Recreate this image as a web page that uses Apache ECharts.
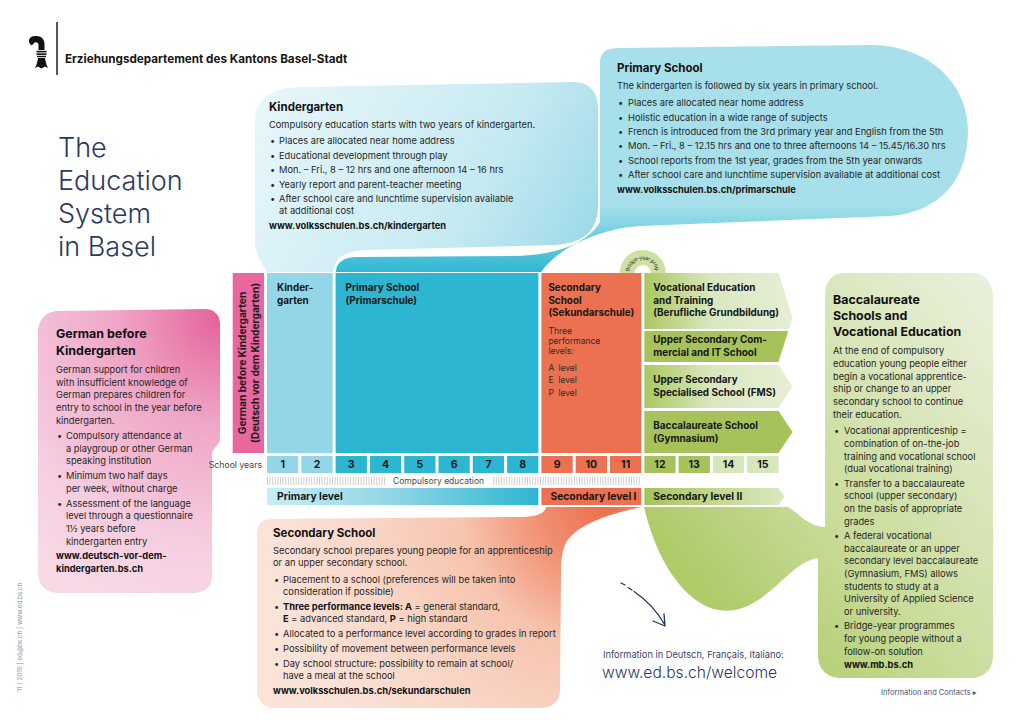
<!DOCTYPE html>
<html><head><meta charset="utf-8">
<script src="https://cdn.jsdelivr.net/npm/echarts@6/dist/echarts.min.js"></script>
<style>html,body{margin:0;padding:0;background:#fff}#c{width:1020px;height:721px}</style>
</head><body><div id="c"></div>
<script>
// ================= DATA =================
const schoolYears = ['1','2','3','4','5','6','7','8','9','10','11','12','13','14','15'];
const yearStage = ['kg','kg','ps','ps','ps','ps','ps','ps','sek','sek','sek','up','up','upx','upx'];
const stageNames = ['German before Kindergarten','Kindergarten','Primary School','Secondary School'];
const stageLabels = [['German before Kindergarten','(Deutsch vor dem Kindergarten)'],['Kinder-','garten'],['Primary School','(Primarschule)'],['Secondary','School','(Sekundarschule)']];
const stageStart = [-1, 0, 2, 8];
const stageEnd = [0, 2, 8, 11];
const performanceIntro = ['Three','performance','levels:'];
const performanceLevels = ['A','E','P'];
const upperLabels = [['Vocational Education','and Training','(Berufliche Grundbildung)'],['Upper Secondary Com-','mercial and IT School'],['Upper Secondary','Specialised School (FMS)'],['Baccalaureate School','(Gymnasium)']];
const upperStart = [11, 11, 11, 11];
const upperEnd = [15, 15, 15, 15];
const levelNames = ['Primary level','Secondary level I','Secondary level II'];
const levelStart = [0, 8, 11];
const levelEnd = [8, 11, 15];
const compulsorySpan = [0, 11];
const compulsoryLabel = 'Compulsory education';
const bridgeYear = 11;
const bridgeLabel = 'Bridge-year prog.';

const headerText = 'Erziehungsdepartement des Kantons Basel-Stadt';
const titleLines = ['The','Education','System','in Basel'];

const kgTitle = ['Kindergarten'];
const kgIntro = ['Compulsory education starts with two years of kindergarten.'];
const kgBullets = [['Places are allocated near home address'],['Educational development through play'],['Mon. – Fri., 8 – 12 hrs and one afternoon 14 – 16 hrs'],['Yearly report and parent-teacher meeting'],['After school care and lunchtime supervision available','at additional cost']];
const kgUrl = ['www.volksschulen.bs.ch/kindergarten'];

const psTitle = ['Primary School'];
const psIntro = ['The kindergarten is followed by six years in primary school.'];
const psBullets = [['Places are allocated near home address'],['Holistic education in a wide range of subjects'],['French is introduced from the 3rd primary year and English from the 5th'],['Mon. – Fri., 8 – 12.15 hrs and one to three afternoons 14 – 15.45/16.30 hrs'],['School reports from the 1st year, grades from the 5th year onwards'],['After school care and lunchtime supervision available at additional cost']];
const psUrl = ['www.volksschulen.bs.ch/primarschule'];

const dkTitle = ['German before','Kindergarten'];
const dkIntro = ['German support for children','with insufficient knowledge of','German prepares children for','entry to school in the year before','kindergarten.'];
const dkBullets = [['Compulsory attendance at','a playgroup or other German','speaking institution'],['Minimum two half days','per week, without charge'],['Assessment of the language','level through a questionnaire','1½ years before','kindergarten entry']];
const dkUrl = ['www.deutsch-vor-dem-','kindergarten.bs.ch'];

const skTitle = ['Secondary School'];
const skIntro = ['Secondary school prepares young people for an apprenticeship','or an upper secondary school.'];
const skBullets = [
  ['Placement to a school (preferences will be taken into','consideration if possible)'],
  [[['Three performance levels: A',1],[' = general standard,',0]],[['E',1],[' = advanced standard, ',0],['P',1],[' = high standard',0]]],
  ['Allocated to a performance level according to grades in report'],
  ['Possibility of movement between performance levels'],
  ['Day school structure: possibility to remain at school/','have a meal at the school']];
const skUrl = ['www.volksschulen.bs.ch/sekundarschulen'];

const bvTitle = ['Baccalaureate','Schools and','Vocational Education'];
const bvIntro = ['At the end of compulsory','education young people either','begin a vocational apprentice-','ship or change to an upper','secondary school to continue','their education.'];
const bvBullets = [['Vocational apprenticeship =','combination of on-the-job','training and vocational school','(dual vocational training)'],['Transfer to a baccalaureate','school (upper secondary)','on the basis of appropriate','grades'],['A federal vocational','baccalaureate or an upper','secondary level baccalaureate','(Gymnasium, FMS) allows','students to study at a','University of Applied Science','or university.'],['Bridge-year programmes','for young people without a','follow-on solution']];
const bvUrl = ['www.mb.bs.ch'];

const infoText = 'Information in Deutsch, Français, Italiano:';
const infoUrl = 'www.ed.bs.ch/welcome';
const contactsText = 'Information and Contacts ▸';
const footerText = '11 / 2019 | ed@bs.ch | www.ed.bs.ch';

// ================= STYLE / LAYOUT =================
const FAM = 'Inter, "Noto Sans", "DejaVu Sans", sans-serif';
const TXT = '#262626', HEAD = '#111111', NAVY = '#2b3961';
const BODY = 9.3;
const LABEL = 9.9;
const GAP = 3;
const LY = {blockTop:273, blockBottom:453, yearTop:456, yearBottom:473, hatchTop:477, hatchBottom:485,
  levelTop:488, levelBottom:505};
const upperRows = [[273,329],[331,362],[365,408],[411,453]];
const upperGroups = [[273,362],[273,362],[365,408],[411,453]];
const upperLabelOffset = [18, 12, 18, 18];
const stageLabelOffset = [0, 10, 10, 7];
const stageFill = ['#e8679e','#93d6e7','#2cb6d1','#ec7151'];
const yearFill = {kg:'#93d6e7', ps:'#2cb6d1', sek:'#ec7151', up:'#a5c35a', upx:'#d8e7bb'};

function lin(x, y, x2, y2, stops, global){
  return {type:'linear', x:x, y:y, x2:x2, y2:y2, global:!!global,
    colorStops: stops.map(s => ({offset:s[0], color:s[1]}))};
}
function rad(x, y, r, stops, global){
  return {type:'radial', x:x, y:y, r:r, global:!!global,
    colorStops: stops.map(s => ({offset:s[0], color:s[1]}))};
}
const lightGreen = () => lin(0,0,1,0,[[0,'#aac860'],[0.45,'#d9e7bf'],[1,'#e6efd6']]);
const upperFill = [lightGreen, () => '#a5c35a', lightGreen, () => '#a5c35a'];

const mctx = document.createElement('canvas').getContext('2d');
function F(size, weight){ return (weight||400) + ' ' + size + 'px ' + FAM; }
function measure(t, font){ mctx.font = font; return mctx.measureText(t).width; }
function txt(x, base, text, size, weight, fill, align){
  return {type:'text', x:x, y: base - size*0.36, silent:true,
    style:{text:text, x:0, y:0, font:F(size,weight), fill:fill||TXT,
      align:align||'left', textAlign:align||'left', verticalAlign:'middle', textVerticalAlign:'middle'}};
}
function lineEls(x, base, line, size){
  if (typeof line === 'string') return [txt(x, base, line, size, 400, TXT)];
  const out = []; let cx = x;
  line.forEach(([t,b]) => { out.push(txt(cx, base, t, size, b?700:400, b?HEAD:TXT)); cx += measure(t, F(size, b?700:400)); });
  return out;
}
function bubbleText(c){
  const els = [];
  c.title.forEach((t,i) => els.push(txt(c.x, c.titleBase + i*c.titleStep, t, c.titleSize, 700, HEAD)));
  let y = c.bodyBase;
  c.intro.forEach((t,i) => { if (i>0) y += c.s; els.push(...lineEls(c.x, y, t, BODY)); });
  c.bullets.forEach((b,bi) => {
    y += c.s + (bi===0 ? c.g0 : c.g);
    els.push(txt(c.bx, y, '•', BODY, 400, TXT));
    b.forEach((line,li) => { if (li>0) y += c.s; els.push(...lineEls(c.tx, y, line, BODY)); });
  });
  c.url.forEach((u,i) => {
    if (c.urlInBullet) { y += c.s; els.push(txt(c.tx, y, u, BODY, 700, HEAD)); }
    else { y += (i===0 ? c.s + c.g : c.s); els.push(txt(c.x, y, u, BODY, 700, HEAD)); }
  });
  return els;
}

// ================= DECOR: bubbles =================
function renderBubbles(){
  return {type:'group', children:[
    {type:'path', shape:{pathData:'M255,122 C255,98 272,88 300,87 L572,82 C590,82 598,92 598,110 L598,205 C598,230 585,243 555,245 L365,250 C345,251 334,258 333,272 L267,272 C262,262 255,255 255,240 Z'},
      style:{fill:lin(270,90,600,272,[[0,'#e7f6fa'],[0.6,'#c6eaf2'],[1,'#96d7e6']],true)}},
    {type:'path', shape:{pathData:'M600,62 C600,52 607,48 620,48 L870,45 C930,45 968,85 968,130 C968,180 940,212 890,216 L640,226 C605,228 560,245 541,272 L336,272 C336,263 343,257 358,257 L515,256 C560,255 588,242 600,222 Z'},
      style:{fill:lin(0,205,0,272,[[0,'#a7e0ea'],[1,'#2fb7d2']],true)}},
    {type:'path', shape:{pathData:'M58,311 L205,309 C214,309 220,315 220,324 L220,438 C220,446 212,447 212,455 L212,577 C212,587 204,593 193,593 L58,593 C46,593 38,585 38,573 L38,333 C38,320 46,311 58,311 Z'},
      style:{fill:rad(222,318,300,[[0,'#e4629b'],[0.35,'#efa6c6'],[0.75,'#f6cde0'],[1,'#f8d9e6']],true)}},
    {type:'path', shape:{pathData:'M272,519 L520,517 C540,517 545,512 546,507 L641,507 C620,512 575,522 565,545 C561,555 561,565 561,575 L560,690 C560,702 552,708 538,708 L275,708 C263,708 257,700 257,690 L257,535 C257,524 262,519 272,519 Z'},
      style:{fill:rad(605,505,340,[[0,'#ec6f4c'],[0.2,'#f19073'],[0.42,'#f7c4ae'],[0.75,'#fad9cb'],[1,'#fbe3d8']],true)}},
    {type:'path', shape:{pathData:'M845,273 L972,273 C985,273 993,283 993,296 L993,655 C993,670 984,678 970,678 L842,678 C828,678 818,670 818,655 L818,558 C790,562 772,602 735,610 C697,617 660,575 644,507 L788,507 C800,515 810,527 825,527 L825,295 C825,282 832,273 845,273 Z'},
      style:{fill:lin(680,560,1000,300,[[0,'#afcb6a'],[0.35,'#c9dc9a'],[1,'#e9f0db']],true)}}
  ]};
}

// ================= DECOR: static texts, logo =================
function renderTexts(){
  const els = [];
  els.push({type:'path', shape:{pathData:'M31,45 C27,41 29,36.5 35,36 C41,35.5 44.5,39 44.5,44 L44.5,50 L38.5,50 L38.5,45 C38.5,42.5 36,41.5 34,43 C33,44 32.5,45.5 31,45 Z'}, style:{fill:'#111'}});
  els.push({type:'rect', shape:{x:36.5,y:50.8,width:10,height:1.6}, style:{fill:'#111'}});
  els.push({type:'rect', shape:{x:36.5,y:53.3,width:10,height:1.6}, style:{fill:'#111'}});
  els.push({type:'rect', shape:{x:37,y:55.8,width:9,height:1.4}, style:{fill:'#111'}});
  els.push({type:'path', shape:{pathData:'M38,58 L45,58 C45.5,62 46.5,65 48,68 L45,66.5 L41.5,68.5 L38,66.5 L35,68 C36.5,65 37.5,62 38,58 Z'}, style:{fill:'#111'}});
  els.push({type:'line', shape:{x1:57,y1:22,x2:57,y2:75}, style:{stroke:'#111', lineWidth:1.4}});
  els.push(txt(65, 63, headerText, 11.7, 700, '#161616'));
  titleLines.forEach((t,i) => els.push(txt(58, 157 + i*33, t, 27, 300, NAVY)));

  els.push(...bubbleText({x:269,bx:270,tx:279,title:kgTitle,titleBase:111,titleStep:16,titleSize:11.5,intro:kgIntro,bodyBase:128,s:12,g:2.5,g0:4,bullets:kgBullets,url:kgUrl}));
  els.push(...bubbleText({x:617,bx:618,tx:628,title:psTitle,titleBase:72,titleStep:16,titleSize:11.5,intro:psIntro,bodyBase:89,s:12,g:2.4,g0:5,bullets:psBullets,url:psUrl}));
  els.push(...bubbleText({x:56,bx:57,tx:66,title:dkTitle,titleBase:338,titleStep:17,titleSize:12.4,intro:dkIntro,bodyBase:373,s:12.6,g:2.3,g0:3,bullets:dkBullets,url:dkUrl}));
  els.push(...bubbleText({x:273,bx:274,tx:283,title:skTitle,titleBase:537,titleStep:16,titleSize:11.5,intro:skIntro,bodyBase:554,s:12,g:3,g0:5,bullets:skBullets,url:skUrl}));
  els.push(...bubbleText({x:833,bx:834,tx:844,title:bvTitle,titleBase:304,titleStep:16,titleSize:12.4,intro:bvIntro,bodyBase:354,s:12.7,g:1.6,g0:3.8,bullets:bvBullets,url:bvUrl,urlInBullet:true}));

  els.push({type:'path', shape:{pathData:'M621,583 L625,585 M628,587.5 L632,590 M634,591.5 C645,599 657,611 665,625 M653,621 L665,626 L664,614'},
    style:{stroke:'#24335f', lineWidth:1.3, fill:null, lineCap:'round', lineJoin:'round'}});
  els.push(txt(603, 658, infoText, 9.25, 400, '#3a4466'));
  els.push(txt(602, 678, infoUrl, 15.6, 300, NAVY));
  els.push(txt(881, 695, contactsText, 7.5, 400, '#4a5275'));
  els.push({type:'text', x:20, y:637, rotation:Math.PI/2, silent:true,
    style:{text:footerText, font:F(6.3,400), fill:'#8a8fa3', align:'center', textAlign:'center', verticalAlign:'middle', textVerticalAlign:'middle'}});
  els.push(txt(262, 468, 'School years', 8.7, 400, '#444', 'right'));
  return {type:'group', children:els};
}

// ================= SERIES RENDERERS =================
function X(api, v){ return api.coord([v, 0])[0]; }

function renderStage(params, api){
  const i = api.value(2);
  const x0 = X(api, api.value(0)), x1 = X(api, api.value(1)) - GAP;
  const ch = [{type:'rect', shape:{x:x0, y:LY.blockTop, width:x1-x0, height:LY.blockBottom-LY.blockTop}, style:{fill:stageFill[i]}}];
  if (i === 0) {
    const cy = (LY.blockTop + LY.blockBottom)/2;
    stageLabels[0].forEach((t,k) => ch.push({type:'text', x: x0 + 9.5 + k*12.5, y: cy, rotation: Math.PI/2,
      style:{text:t, font:F(10.2,700), fill:'#1a1a1a', align:'center', textAlign:'center', verticalAlign:'middle', textVerticalAlign:'middle'}}));
  } else {
    const lx = x0 + stageLabelOffset[i];
    stageLabels[i].forEach((t,k) => ch.push(txt(lx, 291 + k*12.4, t, LABEL, 700, '#161616')));
    if (i === 3) {
      performanceIntro.forEach((t,k) => ch.push(txt(lx, 334 + k*10, t, 8.5, 400, '#2e2a28')));
      performanceLevels.forEach((t,k) => { ch.push(txt(lx, 371 + k*12.5, t, 8.5, 400, '#2e2a28')); ch.push(txt(lx+10, 371 + k*12.5, 'level', 8.5, 400, '#2e2a28')); });
    }
  }
  return {type:'group', children:ch};
}

function renderUpper(params, api){
  const i = api.value(2);
  const x0 = X(api, api.value(0)), xe = X(api, api.value(1)) - GAP, tip = xe + 14;
  const ya = upperRows[i][0], yb = upperRows[i][1], g = upperGroups[i], mid = (g[0]+g[1])/2;
  const edge = y => y <= mid ? xe + (tip-xe)*(y-g[0])/(mid-g[0]) : xe + (tip-xe)*(g[1]-y)/(g[1]-mid);
  const pts = [[x0,ya],[edge(ya),ya]];
  if (ya < mid && mid < yb) pts.push([tip, mid]);
  pts.push([edge(yb), yb], [x0, yb]);
  const ch = [{type:'polygon', shape:{points:pts}, style:{fill:upperFill[i]()}}];
  upperLabels[i].forEach((t,k) => ch.push(txt(x0 + 9, ya + upperLabelOffset[i] + k*12.3, t, LABEL, 700, '#161616')));
  return {type:'group', children:ch};
}

function renderYear(params, api){
  const i = api.value(2);
  const x0 = X(api, api.value(0)), x1 = X(api, api.value(1)) - GAP;
  return {type:'group', children:[
    {type:'rect', shape:{x:x0, y:LY.yearTop, width:x1-x0, height:LY.yearBottom-LY.yearTop}, style:{fill:yearFill[yearStage[i]]}},
    txt((x0+x1)/2, 468.5, schoolYears[i], 10.5, 700, '#161616', 'center')
  ]};
}

function renderLevel(params, api){
  const i = api.value(2);
  const x0 = X(api, api.value(0)), x1 = X(api, api.value(1)) - GAP;
  const t = LY.levelTop, b = LY.levelBottom;
  let el;
  if (i === 0) el = {type:'rect', shape:{x:x0, y:t, width:x1-x0, height:b-t}, style:{fill:lin(0,0,1,0,[[0,'#c9edf4'],[0.45,'#93d6e6'],[1,'#2db6d1']])}};
  else if (i === 1) el = {type:'rect', shape:{x:x0, y:t, width:x1-x0, height:b-t}, style:{fill:'#ec7151'}};
  else el = {type:'polygon', shape:{points:[[x0,t],[x1,t],[x1+6,(t+b)/2],[x1,b],[x0,b]]}, style:{fill:lin(0,0,1,0,[[0,'#a5c35a'],[0.5,'#c3d88e'],[1,'#dbe8c2']])}};
  return {type:'group', children:[el, txt(x0 + (i===0?10:9), 500, levelNames[i], 10.3, 700, '#161616')]};
}

function renderCompulsory(params, api){
  const x0 = X(api, api.value(0)), x1 = X(api, api.value(1)) - GAP;
  const cx = X(api, 5);
  const w = measure(compulsoryLabel, F(8.5,400));
  const gl = cx - w/2 - 8, gr = cx + w/2 + 8;
  const ch = [];
  for (let x = x0 + 0.5; x <= x1; x += 2.6) {
    if (x > gl && x < gr) continue;
    ch.push({type:'line', shape:{x1:x, y1:LY.hatchTop, x2:x, y2:LY.hatchBottom}, style:{stroke:'#c8c8c8', lineWidth:0.9}});
  }
  ch.push(txt(cx, 484, compulsoryLabel, 8.5, 400, '#4a4a4a', 'center'));
  return {type:'group', children:ch};
}

function renderBridge(params, api){
  const cx = X(api, api.value(0)) - GAP/2, cy = LY.blockTop;
  const ch = [{type:'sector', shape:{cx:cx, cy:cy, r:23, r0:8, startAngle:Math.PI, endAngle:2*Math.PI, clockwise:true}, style:{fill:'#cfe0a3'}}];
  const font = F(5.4, 400), r = 15.5;
  const chars = bridgeLabel.split('');
  const ws = chars.map(c => measure(c, font));
  const total = ws.reduce((a,b)=>a+b, 0);
  let acc = 0;
  chars.forEach((c,k) => {
    const s = acc + ws[k]/2; acc += ws[k];
    const phi = 1.5*Math.PI + (s - total/2)/r;
    ch.push({type:'text', x: cx + r*Math.cos(phi), y: cy + r*Math.sin(phi), rotation: 1.5*Math.PI - phi,
      style:{text:c, font:font, fill:'#333', align:'center', textAlign:'center', verticalAlign:'middle', textVerticalAlign:'middle'}});
  });
  return {type:'group', children:ch};
}

// ================= CHART =================
const stageData = stageNames.map((n,i) => [stageStart[i], stageEnd[i], i]);
const upperData = upperLabels.map((n,i) => [upperStart[i], upperEnd[i], i]);
const yearData = schoolYears.map((y,i) => [i, i+1, i]);
const levelData = levelNames.map((n,i) => [levelStart[i], levelEnd[i], i]);

const chart = echarts.init(document.getElementById('c'), null, {renderer:'svg', width:1020, height:721});
chart.setOption({
  animation:false,
  backgroundColor:'#ffffff',
  grid:{left:232.7, top:273, width:548.8, height:232, containLabel:false, outerBoundsMode:'none'},
  xAxis:{type:'value', min:-1, max:15, show:false},
  yAxis:{type:'value', min:0, max:1, show:false},
  series:[
    {type:'custom', name:'bubbles', z:1, silent:true, clip:false, renderItem:renderBubbles, data:[[0]], encode:{x:0}},
    {type:'custom', name:'bridge', z:3, silent:true, clip:false, renderItem:renderBridge, data:[[bridgeYear]], encode:{x:0}},
    {type:'custom', name:'stages', z:10, silent:true, clip:false, renderItem:renderStage, data:stageData, encode:{x:[0,1]}},
    {type:'custom', name:'upper', z:10, silent:true, clip:false, renderItem:renderUpper, data:upperData, encode:{x:[0,1]}},
    {type:'custom', name:'years', z:10, silent:true, clip:false, renderItem:renderYear, data:yearData, encode:{x:[0,1]}},
    {type:'custom', name:'levels', z:10, silent:true, clip:false, renderItem:renderLevel, data:levelData, encode:{x:[0,1]}},
    {type:'custom', name:'compulsory', z:10, silent:true, clip:false, renderItem:renderCompulsory, data:[compulsorySpan], encode:{x:[0,1]}},
    {type:'custom', name:'texts', z:20, silent:true, clip:false, renderItem:renderTexts, data:[[0]], encode:{x:0}}
  ]
});
</script></body></html>
